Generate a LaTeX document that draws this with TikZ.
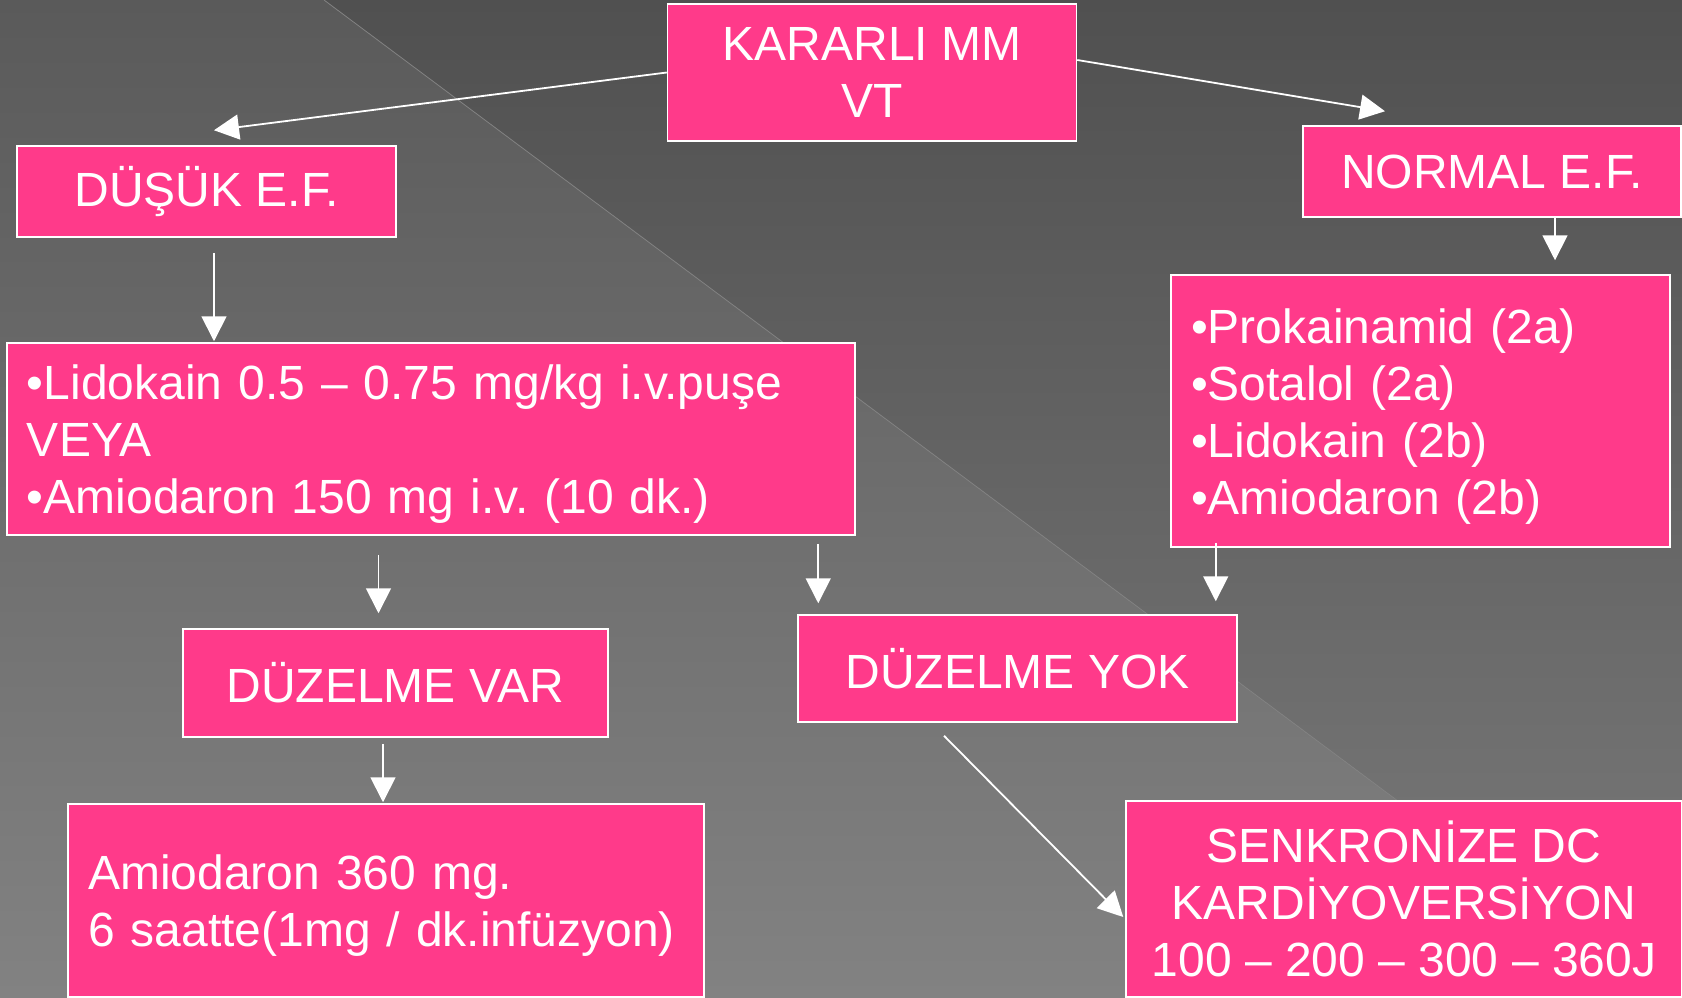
\documentclass[tikz,border=0pt]{standalone}
\usepackage{fontspec}
\setmainfont{Liberation Sans}
\usetikzlibrary{arrows.meta, calc}

\definecolor{boxpink}{HTML}{FF3A8A}
\definecolor{bgtopleft}{HTML}{5A5A5A}
\definecolor{bgbotleft}{HTML}{828282}
\definecolor{bgtopright}{HTML}{505050}
\definecolor{bgbotright}{HTML}{7A7A7A}
\definecolor{diagline}{HTML}{808080}

\begin{document}
\begin{tikzpicture}[
        x=1pt, y=-1pt,
        box/.style={rectangle, draw=white, line width=1.5pt, fill=boxpink, text=white, font=\fontsize{48}{57}\selectfont\frenchspacing, align=center, inner sep=0pt},
        listbox/.style={box, align=left, inner xsep=20pt, execute at begin node=\rule{0pt}{45pt}},
        line/.style={draw=white, line width=1.8pt, -{Triangle[width=25pt, length=25pt]}}
    ]
        % Background
        \useasboundingbox (0,0) rectangle (1682,998);
        \shade[top color=bgtopright, bottom color=bgbotright] (324,0) -- (1682,0) -- (1682,998) -- (1662,998) -- cycle;
        \shade[top color=bgtopleft, bottom color=bgbotleft] (0,0) -- (324,0) -- (1662,998) -- (0,998) -- cycle;
        \draw[diagline, line width=0.8pt] (324,0) -- (1662,998);

        % Top
        \node[box, minimum width=409pt, minimum height=137pt] (kararli) at (872,72.5) {KARARLI MM\\VT};

        % E.F. branches
        \node[box, minimum width=379pt, minimum height=91pt] (dusuk) at (206.5,191.5) {DÜŞÜK E.F.};
        \node[box, minimum width=378pt, minimum height=91pt] (normal) at (1492,171.5) {NORMAL E.F.};

        % Drugs
        \node[listbox, text width=808pt, minimum height=192pt] (lido) at (431,439) {•Lidokain 0.5 – 0.75 mg/kg i.v.puşe\\VEYA\\•Amiodaron 150 mg i.v. (10 dk.)};
        \node[listbox, text width=459pt, minimum height=272pt] (prok) at (1420.5,411) {•Prokainamid (2a)\\•Sotalol (2a)\\•Lidokain (2b)\\•Amiodaron (2b)};

        % Result
        \node[box, minimum width=425pt, minimum height=108pt] (var) at (395.5,683) {DÜZELME VAR};
        \node[box, minimum width=439pt, minimum height=107pt] (yok) at (1017.5,668.5) {DÜZELME YOK};

        % Next step
        \node[listbox, text width=596pt, minimum height=193pt] (amio) at (386,900.5) {Amiodaron 360 mg.\\6 saatte(1mg / dk.infüzyon)};
        \node[box, minimum width=556pt, minimum height=196pt] (senk) at (1404,899) {SENKRONİZE DC\\KARDİYOVERSİYON\\100 – 200 – 300 – 360J};

        % Connections
        \draw[line] (kararli.west) -- ($(dusuk.north)+(7.5,-15)$);
        \draw[line] ($(kararli.east)+(0,-12.5)$) -- ($(normal.north)+(-107,-14)$);
        \draw[line] ($(dusuk.south)+(7.5,15)$) -- ($(dusuk.south |- lido.north)+(7.5,-1)$);
        \draw[line] ($(normal.south)+(63,0)$) -- ($(normal.south |- prok.north)+(63,-14)$);
        \draw[line] ($(var.north |- lido.south)+(-17,19)$) -- ($(var.north)+(-17,-15)$);
        \draw[line] ($(yok.north west |- lido.south)+(21,8)$) -- ($(yok.north west)+(21,-11)$);
        \draw[line] ($(yok.north east |- prok.south)+(-22,-5)$) -- ($(yok.north east)+(-22,-13)$);
        \draw[line] ($(var.south)+(-12.5,6)$) -- ($(var.south |- amio.north)+(-12.5,-1)$);
        \draw[line] ($(yok.south)+(-73.5,13)$) -- ($(senk.west)+(-2,18)$);
    \end{tikzpicture}
\end{document}
